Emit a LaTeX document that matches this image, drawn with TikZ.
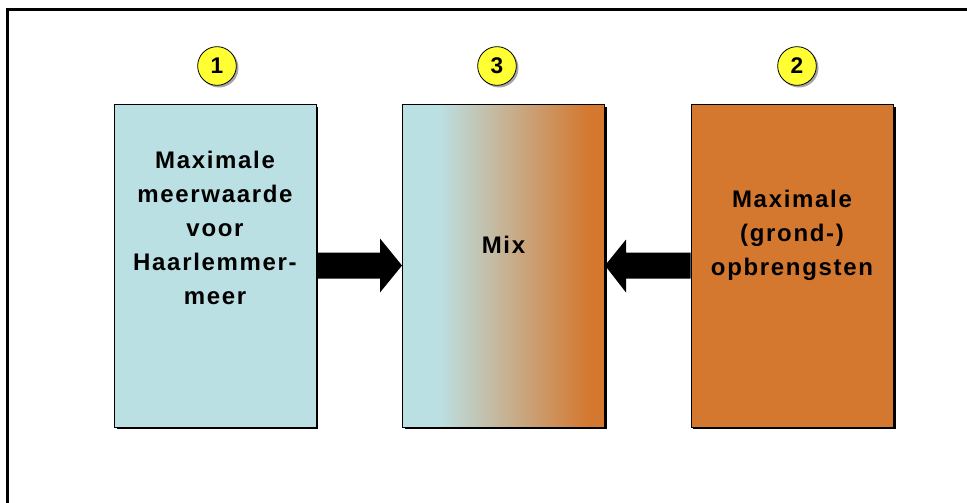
\documentclass[tikz,border=0pt]{standalone}
\usepackage{fontspec}
\setmainfont{Liberation Sans}[LetterSpace=7]
\usetikzlibrary{calc}
\definecolor{paleblue}{HTML}{BBE0E3}
\definecolor{rust}{HTML}{D4782F}
\definecolor{badge}{HTML}{FFFF33}
% horizontal blend used for the middle box (25bp..75bp spans the box)
\pgfdeclarehorizontalshading{blend}{100bp}{color(0bp)=(paleblue); color(34bp)=(paleblue); color(71bp)=(rust); color(100bp)=(rust)}
\tikzset{
  panel/.style={draw=black, line width=0.75pt, minimum width=151.5pt, minimum height=242.25pt, inner sep=0pt},
  drop/.style={fill=black},
  label/.style={font=\bfseries\fontsize{18}{25.5}\selectfont, align=center, text=black},
  badgecirc/.style={circle, draw=black, line width=0.6pt, fill=badge, minimum size=29pt, inner sep=0pt, font=\bfseries\fontsize{17}{17}\selectfont},
  shaft/.style={fill=black}
}
\begin{document}
\begin{tikzpicture}[x=0.75pt, y=-0.75pt]
\useasboundingbox (0,0) rectangle (967,503);
\clip (0,0) rectangle (967,503);
\fill[white] (0,0) rectangle (967,503);
% outer frame
\draw[line width=2.25pt] (7.5,10) rectangle (1010,540);

% drop shadows under the panels
\fill[drop] (117,107) rectangle (318,429);
\fill[drop] (405,107) rectangle (607,429);
\fill[drop] (693,107) rectangle (896,429);

% panels
\node[panel, fill=paleblue] (b1) at (215,265.5) {};
\node[panel, shading=blend] (b3) at (503.5,265.5) {};
\node[panel, fill=rust] (b2) at (792,265.5) {};

% panel texts
\node[label] (t1) at (215,228) {Maximale\\meerwaarde\\voor\\Haarlemmer-\\meer};
\node[label] (t3) at (503.5,245) {Mix};
\node[label] (t2) at (792,235) {Maximale\\(grond-)\\opbrengsten};

% numbered badges
\fill[gray!70] (219,68) circle (19.5);
\fill[gray!70] (499,68) circle (19.5);
\fill[gray!70] (799,68) circle (19.5);
\node[badgecirc] (n1) at (217,66) {1};
\node[badgecirc] (n3) at (497,66) {3};
\node[badgecirc] (n2) at (797,66) {2};

% block arrows between the panels
\fill[shaft] ($(b1.east)+(0,-13)$) -- ($(b3.west)+(-22,-13)$) -- ($(b3.west)+(-22,-27)$)
  -- (b3.west) -- ($(b3.west)+(-22,27)$) -- ($(b3.west)+(-22,13)$) -- ($(b1.east)+(0,13)$) -- cycle;
\fill[shaft] ($(b2.west)+(0,-13)$) -- ($(b3.east)+(21,-13)$) -- ($(b3.east)+(21,-26)$)
  -- (b3.east) -- ($(b3.east)+(21,27)$) -- ($(b3.east)+(21,13)$) -- ($(b2.west)+(0,13)$) -- cycle;
\end{tikzpicture}
\end{document}
